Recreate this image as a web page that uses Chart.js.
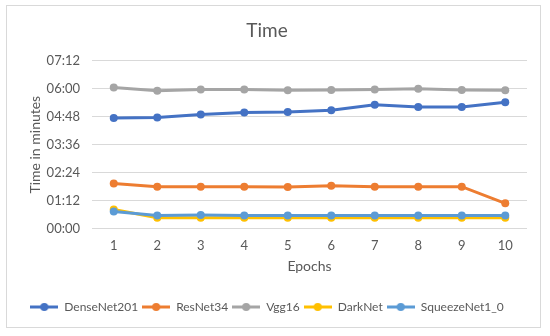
<!DOCTYPE html>
<html>
<head>
<meta charset="utf-8">
<script src="https://cdn.jsdelivr.net/npm/chart.js@4"></script>
<style>
  html, body { margin: 0; padding: 0; background: #fff; }
  #wrap { position: relative; width: 550px; height: 336px; }
  #frame { position: absolute; left: 6px; top: 5px; width: 533px; height: 321px; border: 1px solid #d9d9d9; pointer-events: none; }
</style>
</head>
<body>
<div id="wrap">
  <canvas id="myChart" width="550" height="336"></canvas>
  <div id="frame"></div>
</div>
<script>
// epochs on the x axis
const epochs = ["1", "2", "3", "4", "5", "6", "7", "8", "9", "10"];

// training time per epoch, in seconds (shown as mm:ss)
const denseNet201 = [285, 286, 294, 299, 300, 305, 319, 313, 313, 325];
const resNet34 = [116, 108, 108, 108, 107, 110, 108, 108, 108, 65];
const vgg16 = [363, 355, 358, 358, 356, 357, 358, 360, 357, 356];
const darkNet = [49, 28, 28, 28, 28, 28, 28, 28, 28, 28];
const squeezeNet = [44, 34, 35, 34, 34, 34, 34, 34, 34, 34];

// y ticks every 1:12
const yTicks = [0, 72, 144, 216, 288, 360, 432];

const names = ["DenseNet201", "ResNet34", "Vgg16", "DarkNet", "SqueezeNet1_0"];
const colors = ["#4472C4", "#ED7D31", "#A5A5A5", "#FFC000", "#5B9BD5"];
const seriesData = [denseNet201, resNet34, vgg16, darkNet, squeezeNet];

const fontFamily = "Lato, 'Open Sans', sans-serif";
const textColor = "#595959";

function fmt(sec) {
	const m = Math.floor(sec / 60);
	const s = Math.round(sec % 60);
	return String(m).padStart(2, "0") + ":" + String(s).padStart(2, "0");
}

// legend marker: short line with a dot, like Excel
function legendIcon(color) {
	const c = document.createElement("canvas");
	c.width = 28;
	c.height = 10;
	const g = c.getContext("2d");
	g.strokeStyle = color;
	g.lineWidth = 3;
	g.beginPath();
	g.moveTo(0, 5);
	g.lineTo(28, 5);
	g.stroke();
	g.fillStyle = color;
	g.beginPath();
	g.arc(14, 5, 4, 0, Math.PI * 2);
	g.fill();
	return c;
}

const icons = colors.map(legendIcon);

const ctx = document.getElementById("myChart");

new Chart(ctx, {
	type: "line",
	data: {
		labels: epochs,
		datasets: names.map((name, i) => ({
			label: name,
			data: seriesData[i],
			borderColor: colors[i],
			backgroundColor: colors[i],
			borderWidth: 3,
			pointRadius: 4,
			pointBorderWidth: 0,
			tension: 0,
			order: names.length - i,
		})),
	},
	options: {
		responsive: false,
		animation: false,
		layout: {
			padding: { left: 7, right: 23, top: 0, bottom: 13 },
		},
		plugins: {
			tooltip: { enabled: false },
			title: {
				display: true,
				text: "Time",
				color: textColor,
				font: { family: fontFamily, size: 19, weight: "normal" },
				padding: { top: 19, bottom: 19 },
			},
			legend: {
				position: "bottom",
				labels: {
					color: textColor,
					font: { family: fontFamily, size: 12 },
					usePointStyle: true,
					pointStyleWidth: 28,
					padding: 4,
					generateLabels: (chart) =>
						chart.data.datasets.map((ds, i) => ({
							text: ds.label,
							fillStyle: colors[i],
							strokeStyle: colors[i],
							fontColor: textColor,
							lineWidth: 0,
							pointStyle: icons[i],
							hidden: false,
							datasetIndex: i,
						})),
				},
			},
		},
		scales: {
			x: {
				offset: true,
				grid: { display: false },
				border: { display: false },
				ticks: {
					color: textColor,
					font: { family: fontFamily, size: 13 },
					padding: 1,
				},
				title: {
					display: true,
					text: "Epochs",
					color: textColor,
					font: { family: fontFamily, size: 14 },
					padding: { top: 4, bottom: 22 },
				},
			},
			y: {
				min: 0,
				max: 432,
				afterBuildTicks: (scale) => {
					scale.ticks = yTicks.map((v) => ({ value: v }));
				},
				afterFit: (scale) => {
					scale.width = 85;
				},
				grid: { color: "#d9d9d9", lineWidth: 1, drawTicks: false },
				border: { display: false },
				ticks: {
					color: textColor,
					font: { family: fontFamily, size: 13 },
					padding: 12,
					callback: (v) => fmt(v),
				},
				title: {
					display: true,
					text: "Time in minutes",
					color: textColor,
					font: { family: fontFamily, size: 14 },
					padding: { top: 20, bottom: 0 },
				},
			},
		},
	},
});
</script>
</body>
</html>
